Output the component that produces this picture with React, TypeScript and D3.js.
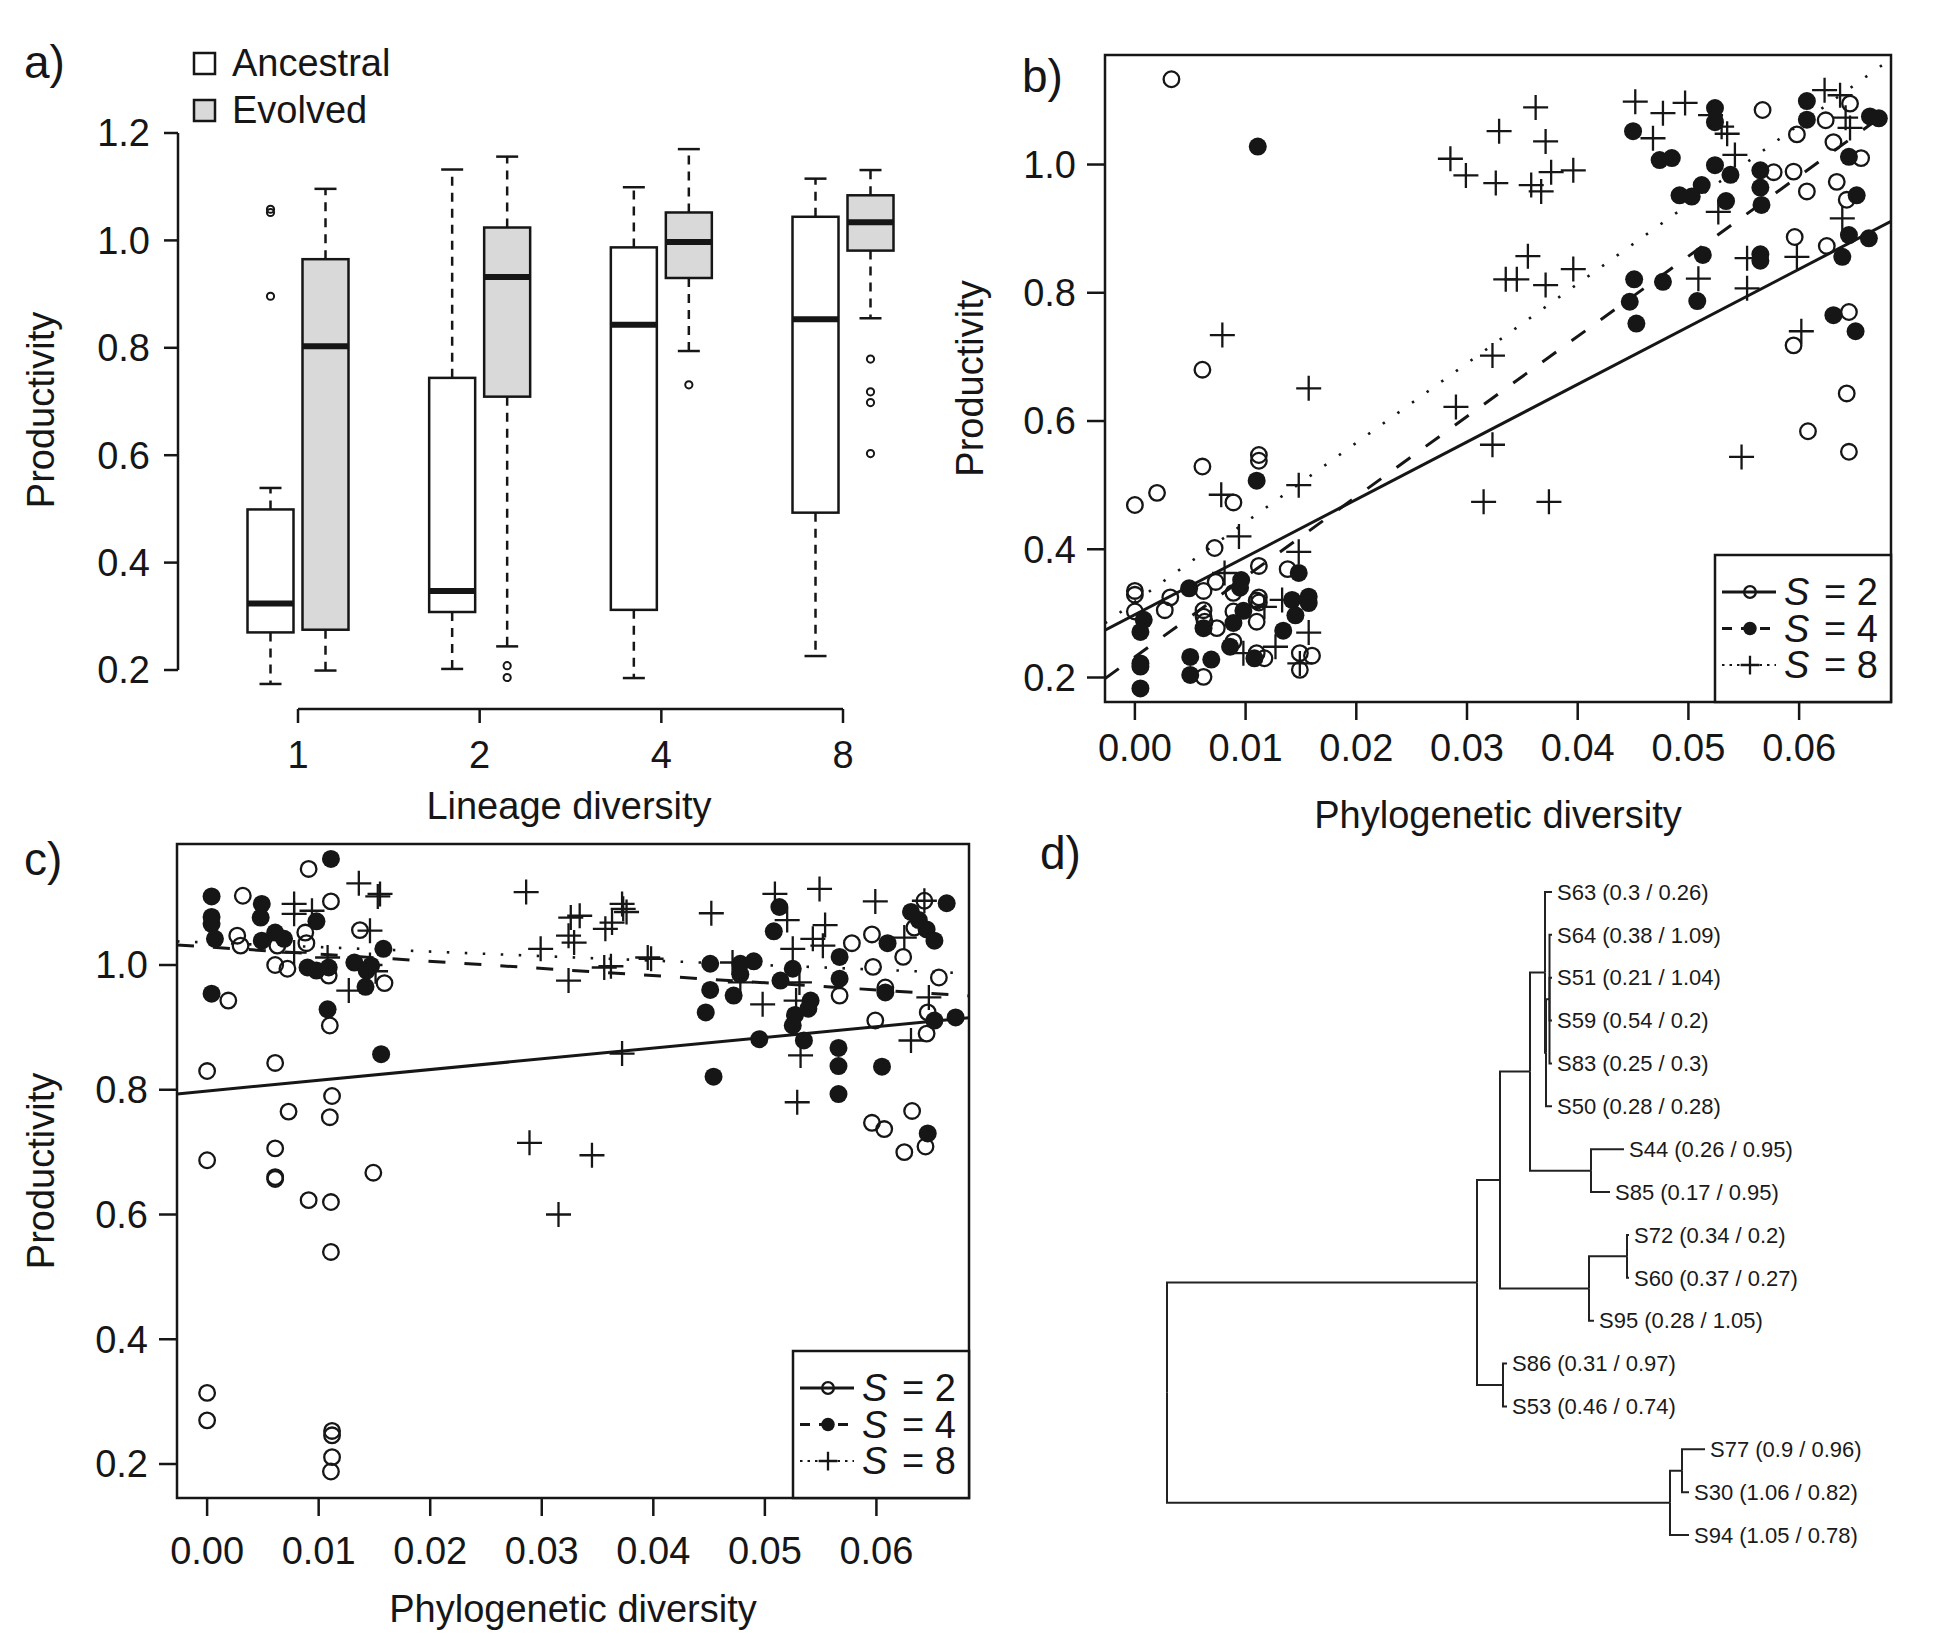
import * as d3 from 'd3';

const FONT = '"Liberation Sans", Arial, Helvetica, sans-serif';
const INK = '#161616';

// ---- panel a: box plots by lineage diversity ----
const lineageGroups = ['1', '2', '4', '8'];
// [lower whisker, q1, median, q3, upper whisker]
const ancestralStats = [
  [0.174, 0.27, 0.324, 0.499, 0.539],
  [0.202, 0.308, 0.347, 0.744, 1.132],
  [0.185, 0.312, 0.843, 0.987, 1.099],
  [0.226, 0.493, 0.853, 1.044, 1.115],
];
const evolvedStats = [
  [0.199, 0.275, 0.803, 0.965, 1.096],
  [0.244, 0.709, 0.932, 1.024, 1.156],
  [0.794, 0.93, 0.997, 1.052, 1.17],
  [0.855, 0.981, 1.034, 1.084, 1.131],
];
const ancestralOutliers = [[1.058, 1.052, 0.896], [], [], []];
const evolvedOutliers = [[], [0.208, 0.186], [0.731], [0.779, 0.718, 0.698, 0.603]];
const boxTicks = [0.2, 0.4, 0.6, 0.8, 1.0, 1.2];

// ---- panel b: productivity vs phylogenetic diversity (ancestral) ----
const bS2 = [
  [0.0033, 1.133], [0.0061, 0.68], [0.0, 0.469], [0.002, 0.488], [0.0061, 0.529], [0.0112, 0.547],
  [0.0112, 0.538], [0.0089, 0.473], [0.0072, 0.402], [0.0112, 0.374], [0.0138, 0.369], [0.0, 0.335],
  [0.0, 0.329], [0.0032, 0.325], [0.0062, 0.335], [0.0073, 0.349], [0.0089, 0.332], [0.0112, 0.325],
  [0.0112, 0.317], [0.011, 0.32], [0.0, 0.303], [0.0027, 0.305], [0.0062, 0.305], [0.0062, 0.295],
  [0.0063, 0.287], [0.0074, 0.277], [0.0089, 0.303], [0.011, 0.287], [0.0089, 0.256], [0.011, 0.238],
  [0.0117, 0.23], [0.0149, 0.238], [0.016, 0.234], [0.0149, 0.212], [0.0062, 0.201],
  [0.0567, 1.085], [0.0577, 0.988], [0.0595, 0.989], [0.0607, 0.958], [0.0598, 1.047], [0.0624, 1.069],
  [0.0631, 1.035], [0.0646, 1.095], [0.0656, 1.01], [0.0634, 0.973], [0.0643, 0.945], [0.0596, 0.887],
  [0.0625, 0.873], [0.0645, 0.77], [0.0595, 0.718], [0.0643, 0.643], [0.0608, 0.584], [0.0645, 0.552],
];
const bS4 = [
  [0.0111, 1.028], [0.011, 0.507], [0.0148, 0.363], [0.0049, 0.339], [0.0096, 0.352], [0.0095, 0.34],
  [0.0008, 0.29], [0.0005, 0.271], [0.0062, 0.277], [0.0089, 0.285], [0.0098, 0.304], [0.0142, 0.321],
  [0.0157, 0.326], [0.0157, 0.316], [0.0145, 0.297], [0.0134, 0.273], [0.0086, 0.248], [0.0108, 0.23],
  [0.005, 0.232], [0.0069, 0.228], [0.005, 0.204], [0.0005, 0.222], [0.0005, 0.217], [0.0005, 0.183],
  [0.045, 1.052], [0.0451, 0.821], [0.0447, 0.786], [0.0453, 0.752],
  [0.0524, 1.088], [0.0524, 1.066], [0.0474, 1.007], [0.0485, 1.01], [0.0524, 0.999], [0.0538, 0.984],
  [0.0512, 0.968], [0.0492, 0.952], [0.0503, 0.95], [0.0534, 0.943], [0.0565, 0.991], [0.0565, 0.964],
  [0.0566, 0.937], [0.0513, 0.859], [0.0477, 0.817], [0.0508, 0.787], [0.0565, 0.86], [0.0565, 0.85],
  [0.0607, 1.099], [0.0607, 1.07], [0.0645, 1.012], [0.0652, 0.952], [0.0645, 0.89], [0.0663, 0.885],
  [0.0639, 0.856], [0.0631, 0.765], [0.0651, 0.74], [0.0664, 1.075], [0.0672, 1.072],
];
const bS8 = [
  [0.0079, 0.734], [0.0157, 0.651], [0.0148, 0.5], [0.0078, 0.485], [0.0094, 0.42], [0.0148, 0.396],
  [0.0081, 0.363], [0.0133, 0.321], [0.0157, 0.27], [0.0127, 0.248], [0.0098, 0.238], [0.0149, 0.222],
  [0.0117, 0.31],
  [0.0362, 1.089], [0.0329, 1.052], [0.0371, 1.036], [0.0285, 1.009], [0.0299, 0.983], [0.0326, 0.971],
  [0.0358, 0.968], [0.0367, 0.958], [0.0376, 0.988], [0.0396, 0.991], [0.0452, 1.098], [0.0355, 0.857],
  [0.0335, 0.821], [0.0345, 0.821], [0.0371, 0.812], [0.0396, 0.837], [0.0323, 0.702], [0.029, 0.622],
  [0.0323, 0.563], [0.0315, 0.474], [0.0374, 0.474],
  [0.0477, 1.08], [0.0497, 1.096], [0.0468, 1.041], [0.052, 1.077], [0.053, 1.059], [0.0535, 1.048],
  [0.0542, 1.015], [0.0527, 0.926], [0.0509, 0.822], [0.0553, 0.854], [0.0553, 0.807], [0.0598, 0.856],
  [0.0602, 0.74], [0.0548, 0.544], [0.0623, 1.116], [0.0637, 1.108], [0.0642, 1.073], [0.0646, 1.057],
  [0.0639, 0.916],
];
// [intercept, slope] for S = 2, 4, 8
const bFits = [[0.298, 8.98], [0.232, 12.5], [0.318, 12.4]];

// ---- panel c: productivity vs phylogenetic diversity (evolved) ----
const cS2 = [
  [0.0091, 1.154], [0.0032, 1.111], [0.0111, 1.102], [0.0027, 1.047], [0.003, 1.031], [0.0088, 1.052],
  [0.0089, 1.035], [0.0063, 1.031], [0.0061, 1.0], [0.0072, 0.994], [0.0137, 1.056], [0.0109, 0.983],
  [0.0159, 0.971], [0.0019, 0.943], [0.011, 0.903], [0.0, 0.83], [0.0061, 0.843], [0.0112, 0.79],
  [0.0073, 0.765], [0.011, 0.756], [0.0, 0.687], [0.0061, 0.706], [0.0061, 0.66], [0.0061, 0.657],
  [0.0149, 0.667], [0.0091, 0.623], [0.0111, 0.62], [0.0111, 0.54], [0.0, 0.314], [0.0, 0.27],
  [0.0112, 0.253], [0.0112, 0.246], [0.0112, 0.211], [0.0111, 0.188],
  [0.0596, 0.747], [0.0607, 0.737], [0.0632, 0.766], [0.0625, 0.7], [0.0644, 0.709],
  [0.0578, 1.035], [0.0596, 1.049], [0.0624, 1.013], [0.0634, 1.06], [0.0597, 0.997], [0.0656, 0.98],
  [0.0567, 0.951], [0.0608, 0.964], [0.0599, 0.911], [0.0646, 0.924], [0.0645, 0.89], [0.0643, 1.103],
];
const cS4 = [
  [0.0111, 1.17], [0.0004, 1.11], [0.0004, 1.077], [0.0004, 1.066], [0.0007, 1.042], [0.0049, 1.098],
  [0.0048, 1.076], [0.0049, 1.039], [0.0061, 1.052], [0.0069, 1.042], [0.0098, 1.07], [0.009, 0.996],
  [0.0098, 0.991], [0.0109, 0.996], [0.0132, 1.004], [0.0143, 0.991], [0.0147, 0.999], [0.0142, 0.965],
  [0.0158, 1.026], [0.0004, 0.954], [0.0108, 0.929], [0.0156, 0.857],
  [0.0513, 1.093], [0.0508, 1.054], [0.0451, 1.002], [0.0478, 1.002], [0.049, 1.006], [0.0478, 0.985],
  [0.0451, 0.96], [0.0472, 0.951], [0.0447, 0.924], [0.0525, 0.994], [0.0514, 0.975], [0.0567, 1.013],
  [0.0567, 0.978], [0.0541, 0.943], [0.0539, 0.93], [0.0527, 0.92], [0.0525, 0.903], [0.0495, 0.881],
  [0.0535, 0.879], [0.0566, 0.867], [0.0566, 0.838], [0.0566, 0.793], [0.0605, 0.837], [0.0454, 0.821],
  [0.061, 1.035], [0.0608, 0.956], [0.0631, 1.085], [0.0638, 1.072], [0.0645, 1.057], [0.0652, 1.039],
  [0.0663, 1.099], [0.0652, 0.911], [0.0671, 0.916], [0.0646, 0.73],
];
const cS8 = [
  [0.0136, 1.131], [0.0155, 1.114], [0.0153, 1.11], [0.0078, 1.098], [0.0078, 1.082], [0.0094, 1.087],
  [0.0146, 1.055], [0.0108, 1.012], [0.0078, 1.02], [0.0127, 0.959], [0.0146, 1.0], [0.0151, 0.99],
  [0.0286, 1.117], [0.0326, 1.076], [0.0334, 1.079], [0.0324, 1.047], [0.0329, 1.036], [0.0299, 1.026],
  [0.0324, 0.975], [0.0357, 1.058], [0.0363, 1.068], [0.0372, 1.098], [0.0373, 1.09], [0.0376, 1.085],
  [0.0356, 0.996], [0.0362, 0.998], [0.0395, 1.012], [0.0398, 1.01], [0.0372, 0.858],
  [0.0452, 1.083], [0.0509, 1.114], [0.052, 1.072], [0.0549, 1.122], [0.0554, 1.064], [0.0543, 1.042],
  [0.0552, 1.031], [0.0525, 1.026], [0.0599, 1.102], [0.0625, 1.044], [0.0643, 1.103], [0.0471, 1.004],
  [0.0478, 0.972], [0.0531, 0.972], [0.0498, 0.937], [0.0528, 0.943], [0.0532, 0.855], [0.0631, 0.879],
  [0.0647, 0.948], [0.0529, 0.78], [0.0289, 0.715], [0.0345, 0.695], [0.0315, 0.6],
];
const cFits = [[0.798, 1.72], [1.029, -1.15], [1.036, -0.724]];

const pdTicks = [0, 0.01, 0.02, 0.03, 0.04, 0.05, 0.06];
const prodTicks = [0.2, 0.4, 0.6, 0.8, 1.0];
const speciesLevels = ['2', '4', '8'];

// ---- panel d: tree ----
const tipNames = ['S63', 'S64', 'S51', 'S59', 'S83', 'S50', 'S44', 'S85', 'S72', 'S60', 'S95', 'S86', 'S53', 'S77', 'S30', 'S94'];
const tipAncestral = [0.3, 0.38, 0.21, 0.54, 0.25, 0.28, 0.26, 0.17, 0.34, 0.37, 0.28, 0.31, 0.46, 0.9, 1.06, 1.05];
const tipEvolved = [0.26, 1.09, 1.04, 0.2, 0.3, 0.28, 0.95, 0.95, 0.2, 0.27, 1.05, 0.97, 0.74, 0.96, 0.82, 0.78];
const treeIds = ['root', 'A', 'B', 'C', 'D', 'S63', 'D2', 'E', 'S64', 'S51', 'S59', 'S83', 'S50', 'F', 'S44', 'S85',
  'G', 'H', 'S72', 'S60', 'S95', 'I', 'S86', 'S53', 'J', 'K', 'S77', 'S30', 'S94'];
const treeParents = ['', 'root', 'A', 'B', 'C', 'D', 'D', 'D2', 'E', 'E', 'E', 'E', 'D2', 'C', 'F', 'F',
  'B', 'G', 'H', 'H', 'G', 'A', 'I', 'I', 'root', 'J', 'K', 'K', 'J'];
const treeDepths = [0, 0.031, 0.0333, 0.0363, 0.0378, 0.0385, 0.0379, 0.03825, 0.0385, 0.0385, 0.0385, 0.0385, 0.0385,
  0.0424, 0.0457, 0.0443, 0.0422, 0.046, 0.0462, 0.0462, 0.0427, 0.0336, 0.034, 0.034, 0.0503, 0.0515, 0.0538, 0.0522, 0.0522];

function Marker({ kind, x, y, small }: { kind: string; x: number; y: number; small?: boolean }) {
  const k = small ? 0.75 : 1;
  if (kind === '2') return <circle cx={x} cy={y} r={7.8 * k} fill="none" stroke={INK} strokeWidth={2.3} />;
  if (kind === '4') return <circle cx={x} cy={y} r={9 * k} fill={INK} />;
  const a = 12.5 * k;
  return <path d={`M${x - a},${y}H${x + a}M${x},${y - a}V${y + a}`} stroke={INK} strokeWidth={2.3} fill="none" />;
}

const lineDash: Record<string, string | undefined> = { '2': undefined, '4': '17 19', '8': '2.5 15.5' };

function BoxPanel() {
  const x = d3.scalePoint().domain(lineageGroups).range([298, 843]);
  const y = d3.scaleLinear().domain([0.2, 1.2]).range([670, 133]);
  const half = 23;
  const renderBox = (s: number[], outl: number[], cx: number, fill: string, key: string) => (
    <g key={key}>
      <line x1={cx} x2={cx} y1={y(s[3])} y2={y(s[4])} stroke={INK} strokeWidth={2.5} strokeDasharray="9 7" />
      <line x1={cx} x2={cx} y1={y(s[1])} y2={y(s[0])} stroke={INK} strokeWidth={2.5} strokeDasharray="9 7" />
      <line x1={cx - 11} x2={cx + 11} y1={y(s[4])} y2={y(s[4])} stroke={INK} strokeWidth={2.5} />
      <line x1={cx - 11} x2={cx + 11} y1={y(s[0])} y2={y(s[0])} stroke={INK} strokeWidth={2.5} />
      <rect x={cx - half} y={y(s[3])} width={half * 2} height={y(s[1]) - y(s[3])} fill={fill} stroke={INK} strokeWidth={2.5} />
      <line x1={cx - half} x2={cx + half} y1={y(s[2])} y2={y(s[2])} stroke={INK} strokeWidth={6} />
      {outl.map((o, j) => (
        <circle key={j} cx={cx} cy={y(o)} r={3.6} fill="none" stroke={INK} strokeWidth={2} />
      ))}
    </g>
  );
  return (
    <g>
      {lineageGroups.map((g, i) => renderBox(ancestralStats[i], ancestralOutliers[i], (x(g) ?? 0) - 27.5, '#ffffff', `a${g}`))}
      {lineageGroups.map((g, i) => renderBox(evolvedStats[i], evolvedOutliers[i], (x(g) ?? 0) + 27.5, '#d9d9da', `e${g}`))}
      <line x1={178} x2={178} y1={y(0.2)} y2={y(1.2)} stroke={INK} strokeWidth={2.5} />
      {boxTicks.map((t) => (
        <g key={t}>
          <line x1={164} x2={178} y1={y(t)} y2={y(t)} stroke={INK} strokeWidth={2.5} />
          <text x={150} y={y(t)} dy="0.35em" textAnchor="end" fontSize={38}>{t.toFixed(1)}</text>
        </g>
      ))}
      <line x1={x('1')} x2={x('8')} y1={709} y2={709} stroke={INK} strokeWidth={2.5} />
      {lineageGroups.map((g) => (
        <g key={g}>
          <line x1={x(g)} x2={x(g)} y1={709} y2={723} stroke={INK} strokeWidth={2.5} />
          <text x={x(g)} y={755} dy="0.35em" textAnchor="middle" fontSize={38}>{g}</text>
        </g>
      ))}
      <text x={569} y={806} dy="0.35em" textAnchor="middle" fontSize={38}>Lineage diversity</text>
      <text transform="translate(41,410) rotate(-90)" dy="0.35em" textAnchor="middle" fontSize={38}>Productivity</text>
      <rect x={194} y={53} width={21} height={21} fill="#fff" stroke={INK} strokeWidth={2.5} />
      <rect x={194} y={100} width={21} height={21} fill="#d9d9da" stroke={INK} strokeWidth={2.5} />
      <text x={232} y={63} dy="0.35em" fontSize={38}>Ancestral</text>
      <text x={232} y={110} dy="0.35em" fontSize={38}>Evolved</text>
      <text x={24} y={78} fontSize={46}>a)</text>
    </g>
  );
}

type PanelProps = {
  id: string;
  left: number; right: number; top: number; bottom: number;
  yDomain: [number, number];
  series: number[][][];
  fits: number[][];
  tickLabelY: number; xLabelY: number; yLabelX: number;
};

function ScatterPanel(p: PanelProps) {
  const x = d3.scaleLinear().domain([-0.0027, 0.0683]).range([p.left, p.right]);
  const y = d3.scaleLinear().domain(p.yDomain).range([p.bottom, p.top]);
  const [x0, x1] = x.domain();
  const lw = 176;
  const lh = 147;
  const lx = p.right - lw;
  const ly = p.bottom - lh;
  return (
    <g>
      <defs>
        <clipPath id={`clip-${p.id}`}>
          <rect x={p.left} y={p.top} width={p.right - p.left} height={p.bottom - p.top} />
        </clipPath>
      </defs>
      <g clipPath={`url(#clip-${p.id})`}>
        {p.fits.map(([a, b], i) => (
          <line key={i} x1={x(x0)} x2={x(x1)} y1={y(a + b * x0)} y2={y(a + b * x1)} stroke={INK}
            strokeWidth={i === 2 ? 2.6 : 3} strokeDasharray={lineDash[speciesLevels[i]]} />
        ))}
        {p.series.map((pts, i) =>
          pts.map(([px, py], j) => <Marker key={`${i}-${j}`} kind={speciesLevels[i]} x={x(px)} y={y(py)} />)
        )}
      </g>
      <rect x={p.left} y={p.top} width={p.right - p.left} height={p.bottom - p.top} fill="none" stroke={INK} strokeWidth={2.5} />
      {pdTicks.map((t) => (
        <g key={t}>
          <line x1={x(t)} x2={x(t)} y1={p.bottom} y2={p.bottom + 18} stroke={INK} strokeWidth={2.5} />
          <text x={x(t)} y={p.tickLabelY} dy="0.35em" textAnchor="middle" fontSize={38}>{t.toFixed(2)}</text>
        </g>
      ))}
      {prodTicks.map((t) => (
        <g key={t}>
          <line x1={p.left - 18} x2={p.left} y1={y(t)} y2={y(t)} stroke={INK} strokeWidth={2.5} />
          <text x={p.left - 29} y={y(t)} dy="0.35em" textAnchor="end" fontSize={38}>{t.toFixed(1)}</text>
        </g>
      ))}
      <text x={(p.left + p.right) / 2} y={p.xLabelY} dy="0.35em" textAnchor="middle" fontSize={38}>Phylogenetic diversity</text>
      <text transform={`translate(${p.yLabelX},${(p.top + p.bottom) / 2}) rotate(-90)`} dy="0.35em" textAnchor="middle" fontSize={38}>Productivity</text>
      <rect x={lx} y={ly} width={lw} height={lh} fill="#fff" stroke={INK} strokeWidth={2.5} />
      {speciesLevels.map((s, i) => {
        const yy = ly + 37 + i * 36.5;
        return (
          <g key={s}>
            <line x1={lx + 7} x2={lx + 61} y1={yy} y2={yy} stroke={INK} strokeWidth={i === 2 ? 2.2 : 3}
              strokeDasharray={s === '4' ? '10 9' : s === '8' ? '2.5 5' : undefined} />
            <Marker kind={s} x={lx + 35} y={yy} small />
            <text x={lx + 69} y={yy} dy="0.35em" fontSize={38} fontStyle="italic">S</text>
            <text x={lx + 109} y={yy} dy="0.35em" fontSize={38}>{`= ${s}`}</text>
          </g>
        );
      })}
    </g>
  );
}

function TreePanel() {
  const xT = d3.scaleLinear().domain([0, 0.01]).range([1167, 1267]);
  const yT = d3.scalePoint().domain(tipNames).range([892, 1535]);
  const rows = treeIds.map((id, i) => ({ id, parent: treeParents[i], depth: treeDepths[i] }));
  const root = d3.stratify<{ id: string; parent: string; depth: number }>()
    .id((d) => d.id)
    .parentId((d) => d.parent || null)(rows);
  const pos = new Map<string, { x: number; y: number }>();
  root.eachAfter((n) => {
    const yy = n.children ? d3.mean(n.children, (c) => pos.get(c.data.id)!.y)! : yT(n.data.id)!;
    pos.set(n.data.id, { x: xT(n.data.depth), y: yy });
  });
  const links = root.descendants().filter((n) => n.parent);
  return (
    <g>
      {links.map((n) => {
        const p = pos.get(n.parent!.data.id)!;
        const c = pos.get(n.data.id)!;
        return <path key={n.data.id} d={`M${p.x},${p.y}V${c.y}H${c.x}`} fill="none" stroke="#222" strokeWidth={2} />;
      })}
      {tipNames.map((name, i) => {
        const c = pos.get(name)!;
        return (
          <text key={name} x={c.x + 5} y={c.y} dy="0.35em" fontSize={22} fill="#1a1a1a">
            {`${name} (${tipAncestral[i]} / ${tipEvolved[i]})`}
          </text>
        );
      })}
      <text x={1040} y={869} fontSize={46}>d)</text>
    </g>
  );
}

export default function App() {
  return (
    <>
      <style>{`body{margin:0;background:#fff}`}</style>
      <svg width={1950} height={1648} viewBox="0 0 1950 1648" fontFamily={FONT} fill={INK}
        style={{ display: 'block', background: '#fff' }}>
        <BoxPanel />
        <ScatterPanel id="b" left={1105} right={1891} top={55} bottom={702} yDomain={[0.1618, 1.1708]}
          series={[bS2, bS4, bS8]} fits={bFits} tickLabelY={748} xLabelY={815} yLabelX={970} />
        <text x={1022} y={92} fontSize={46}>b)</text>
        <ScatterPanel id="c" left={177} right={969} top={844} bottom={1498} yDomain={[0.1455, 1.194]}
          series={[cS2, cS4, cS8]} fits={cFits} tickLabelY={1551} xLabelY={1609} yLabelX={41} />
        <text x={24} y={875} fontSize={46}>c)</text>
        <TreePanel />
      </svg>
    </>
  );
}
